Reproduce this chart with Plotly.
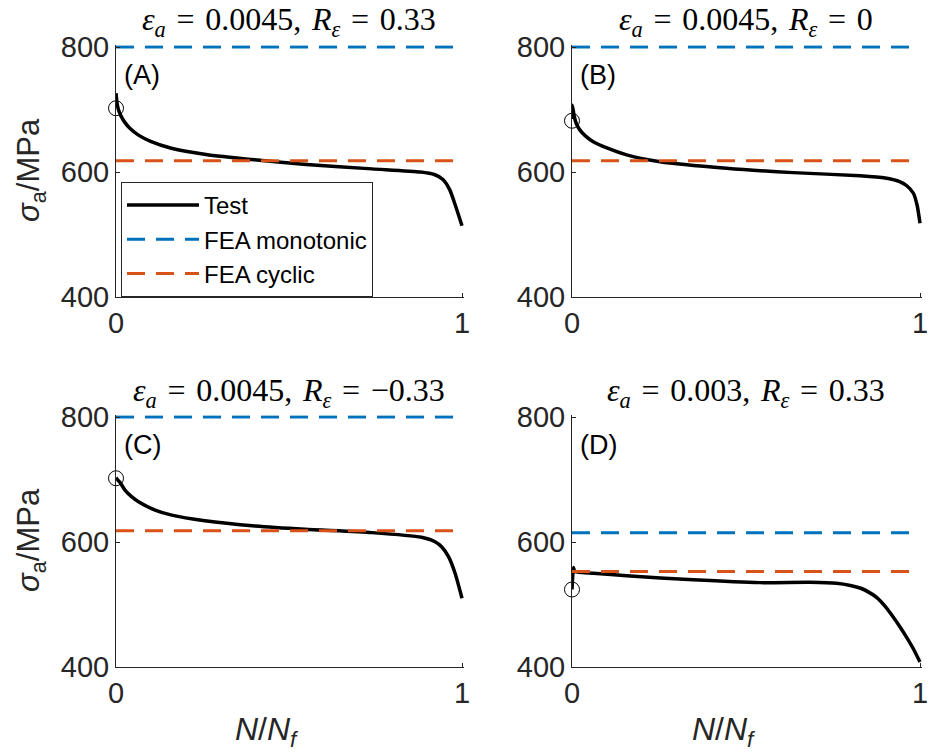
import plotly.graph_objects as go

# ---------------- data ----------------
panel_labels = ["(A)", "(B)", "(C)", "(D)"]
EQ = "\u2004=\u2004"
CM = ",\u2004"
titles = [
    f"<i>ε</i><sub><i>a</i></sub>{EQ}0.0045{CM}<i>R</i><sub><i>ε</i></sub>{EQ}0.33",
    f"<i>ε</i><sub><i>a</i></sub>{EQ}0.0045{CM}<i>R</i><sub><i>ε</i></sub>{EQ}0",
    f"<i>ε</i><sub><i>a</i></sub>{EQ}0.0045{CM}<i>R</i><sub><i>ε</i></sub>{EQ}−0.33",
    f"<i>ε</i><sub><i>a</i></sub>{EQ}0.003{CM}<i>R</i><sub><i>ε</i></sub>{EQ}0.33",
]

test_a_x = [0.0, 0.003, 0.007, 0.015, 0.026, 0.04, 0.065, 0.1, 0.16, 0.26, 0.4, 0.55, 0.74, 0.88, 0.92, 0.945, 0.965, 0.98, 1.0]
test_a_y = [726, 710, 700, 689, 679, 670, 659, 649, 638, 628, 619.5, 612, 605, 600, 596, 588, 571, 548, 514]

test_b_x = [0.0, 0.001, 0.006, 0.012, 0.023, 0.04, 0.061, 0.1, 0.157, 0.253, 0.444, 0.636, 0.828, 0.9, 0.94, 0.962, 0.981, 0.992, 1.0]
test_b_y = [685, 707, 690, 678, 667, 657, 648.5, 638.5, 627.5, 616.5, 606, 599, 594, 590.5, 585, 578, 566, 546, 518]

test_c_x = [0.0, 0.004, 0.012, 0.026, 0.045, 0.065, 0.113, 0.161, 0.257, 0.402, 0.546, 0.739, 0.883, 0.922, 0.941, 0.961, 0.98, 1.0]
test_c_y = [703, 700, 695, 683, 672.5, 664.5, 651, 643, 634, 625.6, 620.3, 615, 607.5, 600.5, 592.5, 576.5, 550, 510]

test_d_x = [0.0, 0.002, 0.004, 0.008, 0.03, 0.061, 0.157, 0.348, 0.54, 0.684, 0.76, 0.8, 0.83, 0.855, 0.876, 0.9, 0.923, 0.945, 0.962, 0.98, 1.0]
test_d_y = [524, 545, 559, 553, 551, 550, 546, 539.5, 535, 535.5, 534, 530.5, 526, 519, 511, 497, 480, 462, 447, 430, 408]

test_x = [test_a_x, test_b_x, test_c_x, test_d_x]
test_y = [test_a_y, test_b_y, test_c_y, test_d_y]

fea_monotonic = [800, 800, 800, 615]
fea_cyclic = [618, 618, 618, 553]
start_circle_y = [702, 682, 702, 524]

x_ticks = [0, 1]
y_ticks = [400, 600, 800]

# ---------------- layout geometry ----------------
W, H = 933, 754
col_px = [(116, 462), (572, 920)]
row_px = [(47, 297), (417, 667)]
Y_MIN, Y_MAX, Y_PAD = 400, 800, 3      # small pad so lines at 800 are not clipped
X_MIN, X_MAX, X_PAD = 0, 1, 0.006

BLUE = "#0072BD"
RED = "#D95319"
AX = "#262626"
SANS = "Liberation Sans, Arial, sans-serif"
SERIF = "Liberation Serif, DejaVu Serif, serif"

fig = go.Figure()
annotations = []

for i in range(4):
    r, c = divmod(i, 2)
    xa = "x" if i == 0 else f"x{i+1}"
    ya = "y" if i == 0 else f"y{i+1}"
    show = (i == 0)
    fig.add_trace(go.Scatter(x=test_x[i], y=test_y[i], mode="lines",
                             line=dict(color="black", width=3.5, shape="spline", smoothing=0.6),
                             name="Test", legendgroup="test", showlegend=show,
                             xaxis=xa, yaxis=ya))
    fig.add_trace(go.Scatter(x=x_ticks, y=[fea_monotonic[i]] * 2, mode="lines",
                             line=dict(color=BLUE, width=3, dash="18px,11px"),
                             name="FEA monotonic", legendgroup="mono", showlegend=show,
                             xaxis=xa, yaxis=ya))
    fig.add_trace(go.Scatter(x=x_ticks, y=[fea_cyclic[i]] * 2, mode="lines",
                             line=dict(color=RED, width=3, dash="18px,11px"),
                             name="FEA cyclic", legendgroup="cyc", showlegend=show,
                             xaxis=xa, yaxis=ya))
    fig.add_trace(go.Scatter(x=[0], y=[start_circle_y[i]], mode="markers",
                             marker=dict(symbol="circle-open", size=15, color="black",
                                         line=dict(width=1, color="black")),
                             showlegend=False, cliponaxis=False, xaxis=xa, yaxis=ya))

    x0, x1 = col_px[c]
    y0, y1 = row_px[r]
    ypx = (y1 - y0) / (Y_MAX - Y_MIN)
    xpx = (x1 - x0) / (X_MAX - X_MIN)
    xdom = [x0 / W, (x1 + X_PAD * xpx) / W]
    ydom = [1 - y1 / H, 1 - (y0 - Y_PAD * ypx) / H]
    axis_common = dict(showline=True, linecolor=AX, linewidth=1, ticks="inside",
                       ticklen=4, tickcolor=AX, tickwidth=1, showgrid=False,
                       zeroline=False, mirror=False, automargin=False,
                       tickfont=dict(family=SANS, size=29, color=AX))
    fig.layout[("xaxis" if i == 0 else f"xaxis{i+1}")] = dict(
        domain=xdom, range=[X_MIN, X_MAX + X_PAD], tickvals=x_ticks, ticktext=["0", "1"],
        anchor=ya, **axis_common)
    fig.layout[("yaxis" if i == 0 else f"yaxis{i+1}")] = dict(
        domain=ydom, range=[Y_MIN, Y_MAX + Y_PAD], tickvals=y_ticks,
        anchor=xa, **axis_common)

    # subplot title
    annotations.append(dict(text=titles[i], xref="paper", yref="paper",
                            x=(x0 + x1) / 2 / W, y=1 - (y0 - 25) / H,
                            xanchor="center", yanchor="middle", showarrow=False,
                            font=dict(family=SERIF, size=32, color="black")))
    # panel label
    annotations.append(dict(text=panel_labels[i], xref="paper", yref="paper",
                            x=(x0 + 6) / W, y=1 - (y0 + 28) / H,
                            xanchor="left", yanchor="middle", showarrow=False,
                            font=dict(family=SANS, size=27, color="black")))
    if c == 0:
        annotations.append(dict(text="<i>σ</i><sub>a</sub>/MPa", xref="paper", yref="paper",
                                x=31 / W, y=1 - ((y0 + y1) / 2 - 2) / H, textangle=-90,
                                xanchor="center", yanchor="middle", showarrow=False,
                                font=dict(family=SANS, size=31, color=AX)))
    if r == 1:
        annotations.append(dict(text="<i>N</i>/<i>N</i><sub><i>f</i></sub>", xref="paper", yref="paper",
                                x=((x0 + x1) / 2 - 22) / W, y=1 - 731 / H,
                                xanchor="center", yanchor="middle", showarrow=False,
                                font=dict(family=SANS, size=32, color=AX)))

fig.update_layout(
    width=W, height=H,
    margin=dict(l=0, r=0, t=0, b=0, pad=0, autoexpand=False),
    paper_bgcolor="white", plot_bgcolor="white",
    annotations=annotations,
    legend=dict(x=121 / W, y=1 - 182 / H, xanchor="left", yanchor="top",
                bgcolor="white", bordercolor=AX, borderwidth=1,
                font=dict(family=SANS, size=24, color="black"),
                itemwidth=72, tracegroupgap=0),
)

fig.write_html("out.html")
